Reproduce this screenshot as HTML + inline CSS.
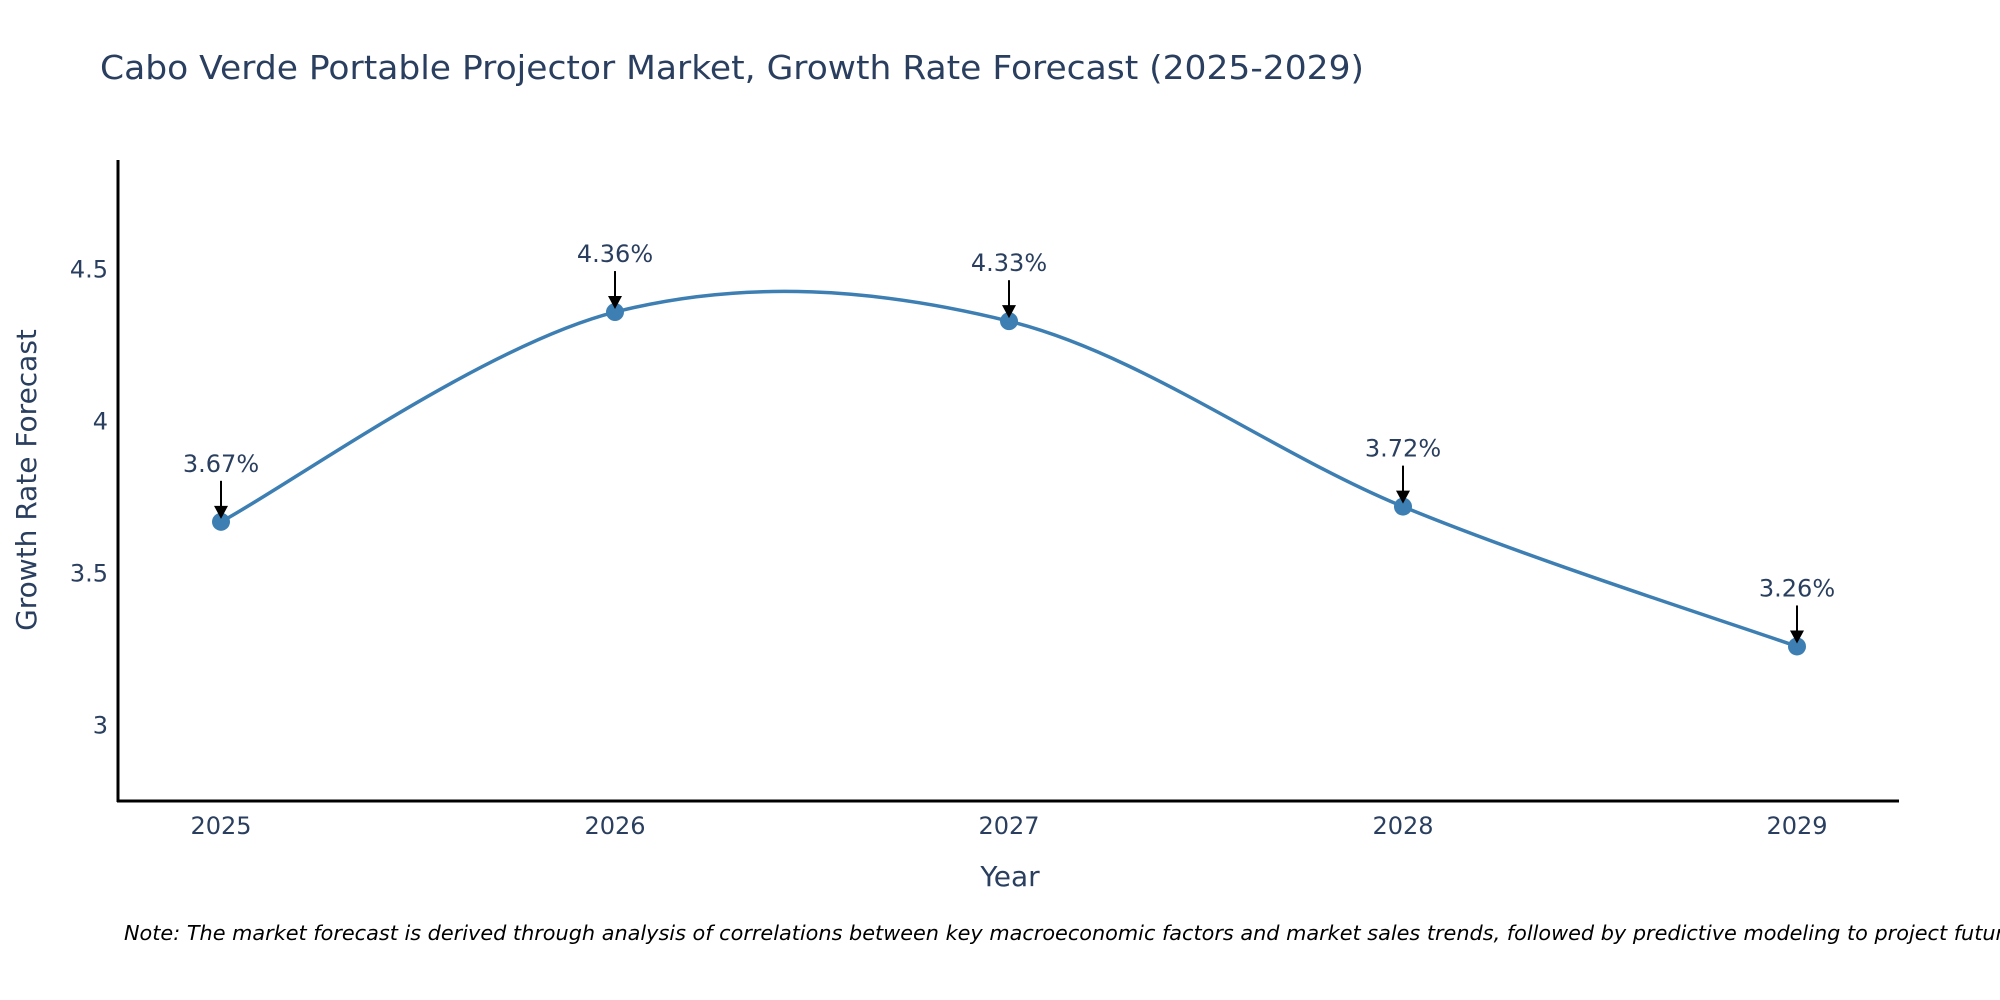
<!DOCTYPE html>
<html><head><meta charset="utf-8"><style>
body{margin:0;background:#fff;}
svg{display:block;font-family:"DejaVu Sans","Liberation Sans",sans-serif;}
</style></head><body>
<svg id="chart" width="2000" height="1000" viewBox="0 0 2000 1000">
<text x="100" y="79" font-size="33" fill="#2a3f5f" textLength="1264" lengthAdjust="spacingAndGlyphs">Cabo Verde Portable Projector Market, Growth Rate Forecast (2025-2029)</text>
<g id="yticks"></g>
<g id="xticks"></g>
<path id="line" fill="none" stroke="#3d7fb3" stroke-width="3.5"/>
<g id="points"></g>
<g id="annots"></g>
<line x1="118" y1="160" x2="118" y2="802" stroke="#000" stroke-width="3"/>
<line x1="117" y1="801" x2="1899" y2="801" stroke="#000" stroke-width="3"/>
<text x="1010" y="886" font-size="28" fill="#2a3f5f" text-anchor="middle">Year</text>
<text transform="translate(36,480) rotate(-90)" font-size="28" fill="#2a3f5f" text-anchor="middle">Growth Rate Forecast</text>
<text x="124" y="940" font-size="20.8" font-style="italic" fill="#000">Note: The market forecast is derived through analysis of correlations between key macroeconomic factors and market sales trends, followed by predictive modeling to project future sales.</text>
</svg>
<script>
const years = [2025, 2026, 2027, 2028, 2029];
const values = [3.67, 4.36, 4.33, 3.72, 3.26];
const labels = ["3.67%", "4.36%", "4.33%", "3.72%", "3.26%"];
const yTickValues = [3, 3.5, 4, 4.5];
const yTickLabels = ["3", "3.5", "4", "4.5"];

const NS = "http://www.w3.org/2000/svg";
function xs(v){ return 221 + (v - 2025) * 394; }
function ys(v){ return 725.5 - (v - 3) * 304; }
function mk(tag, attrs, parent){
  const e = document.createElementNS(NS, tag);
  for (const k in attrs) e.setAttribute(k, attrs[k]);
  parent.appendChild(e);
  return e;
}
const yt = document.getElementById('yticks');
yTickValues.forEach((v,i)=>{
  const t = mk('text',{x:108,y:ys(v)+8,'font-size':24,fill:'#2a3f5f','text-anchor':'end'},yt);
  
  
  t.textContent = yTickLabels[i];
});
const xt = document.getElementById('xticks');
years.forEach(y=>{
  const t = mk('text',{x:xs(y),y:834,'font-size':24,fill:'#2a3f5f','text-anchor':'middle'},xt);
  
  
  t.textContent = String(y);
});
const P = years.map((y,i)=>[xs(y), ys(values[i])]);
let d = `M${P[0][0]},${P[0][1]}`;
const k = 1/6;
for (let i=0;i<P.length-1;i++){
  const p0 = P[i-1]||P[i], p1=P[i], p2=P[i+1], p3=P[i+2]||P[i+1];
  const c1=[p1[0]+(p2[0]-p0[0])*k, p1[1]+(p2[1]-p0[1])*k];
  const c2=[p2[0]-(p3[0]-p1[0])*k, p2[1]-(p3[1]-p1[1])*k];
  d += ` C${c1[0]},${c1[1]} ${c2[0]},${c2[1]} ${p2[0]},${p2[1]}`;
}
document.getElementById('line').setAttribute('d', d);
const pts = document.getElementById('points');
const an = document.getElementById('annots');
P.forEach((p,i)=>{
  const c = mk('circle',{cx:p[0],cy:p[1],r:9,fill:'#3d7fb3'},pts);
  
  
  const l = mk('line',{x1:p[0],y1:p[1]-41,x2:p[0],y2:p[1]-14,stroke:'#000','stroke-width':2},an);
  
  
  const h = mk('path',{d:`M${p[0]-7},${p[1]-16} L${p[0]+7},${p[1]-16} L${p[0]},${p[1]-3} Z`,fill:'#000'},an);
  
  
  const t = mk('text',{x:p[0],y:p[1]-50,'font-size':24,fill:'#2a3f5f','text-anchor':'middle'},an);
  
  
  t.textContent = labels[i];
});
</script>
</body></html>
